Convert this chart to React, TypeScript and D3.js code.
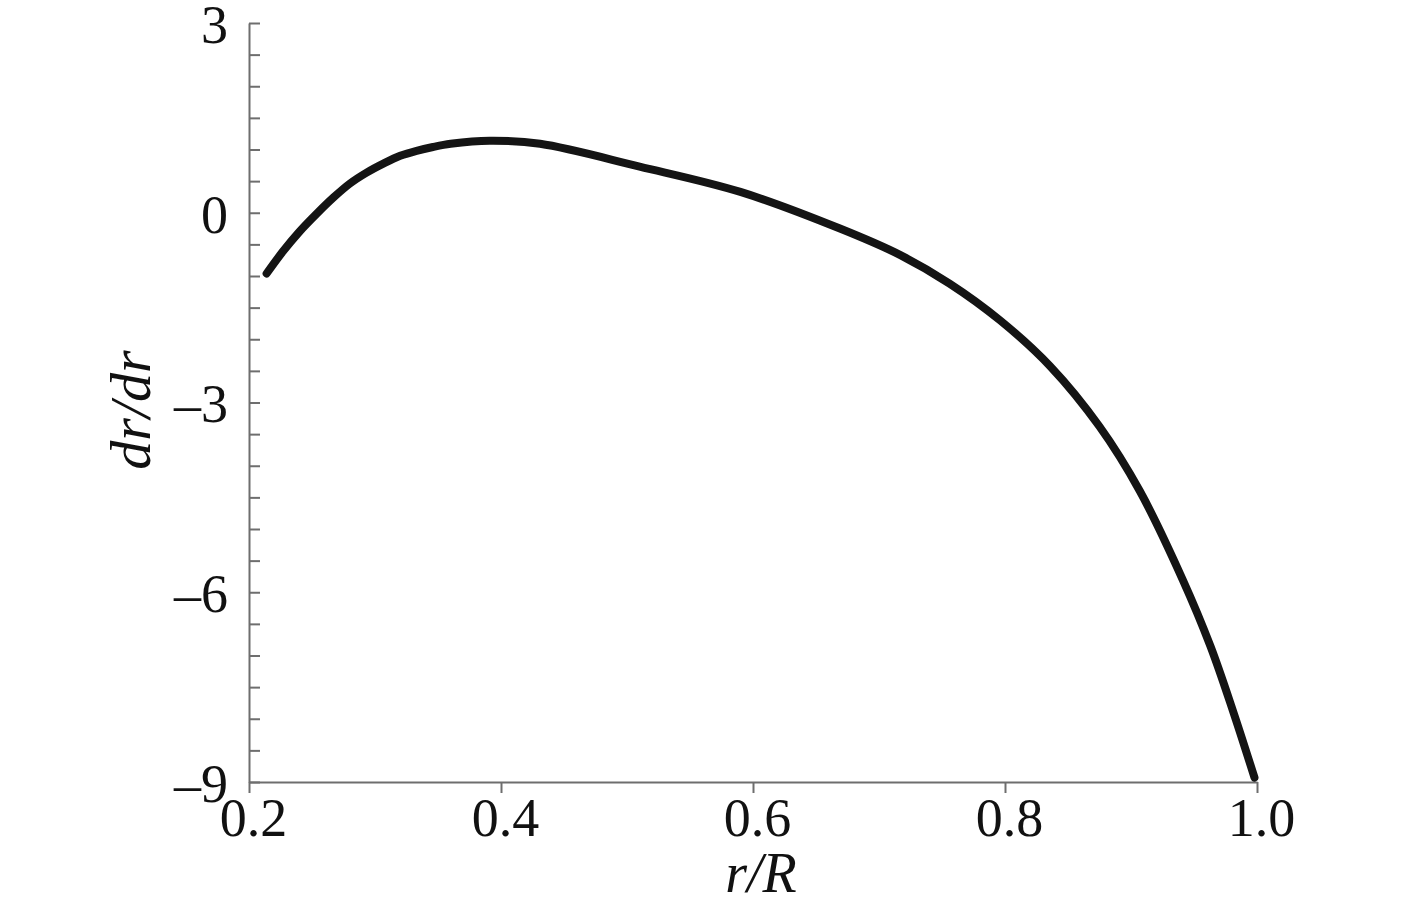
import { useEffect, useRef } from "react";
import * as d3 from "d3";

// values
const rValues = [0.214, 0.227, 0.24, 0.254, 0.267, 0.28, 0.293, 0.307, 0.32, 0.333, 0.346, 0.36, 0.391, 0.431, 0.51, 0.59, 0.669, 0.717, 0.756, 0.796, 0.836, 0.875, 0.907, 0.941, 0.963, 0.981, 0.998];
const slopeValues = [-0.96, -0.61, -0.3, -0.01, 0.24, 0.46, 0.63, 0.78, 0.9, 0.98, 1.04, 1.09, 1.14, 1.09, 0.73, 0.33, -0.25, -0.67, -1.12, -1.7, -2.43, -3.38, -4.4, -5.8, -6.85, -7.88, -8.93];

const xTicks = [0.2, 0.4, 0.6, 0.8, 1.0];
const yLabelTicks = [-9, -6, -3, 0, 3];
const yMinorTicks = d3.range(-9, 3.01, 0.5);

const xTitle = "r/R";
const yTitle = "dr/dr";

const W = 1417;
const H = 898;

export default function App() {
  const ref = useRef<SVGSVGElement | null>(null);

  useEffect(() => {
    const svg = d3.select(ref.current);
    svg.selectAll("*").remove();

    const left = 249, right = 1257, top = 23, bottom = 782;
    const axisColor = "#6e6e6e";
    const font = "'Liberation Serif', 'Times New Roman', serif";

    const x = d3.scaleLinear().domain([0.2, 1.0]).range([left, right]);
    const y = d3.scaleLinear().domain([-9, 3]).range([bottom, top]);

    const fmt = (v: number) => (v < 0 ? "–" + Math.abs(v) : String(v));

    // y axis: minor ticks every 0.5, labels every 3
    const yAxis = svg.append("g")
      .attr("transform", `translate(${left},0)`)
      .call(
        d3.axisLeft(y)
          .tickValues(yMinorTicks)
          .tickSize(-11)
          .tickSizeOuter(0)
          .tickPadding(21)
          .tickFormat((d: any) => (yLabelTicks.includes(+d) ? fmt(+d) : ""))
      );
    yAxis.select(".domain").attr("stroke", axisColor).attr("stroke-width", 2);
    yAxis.selectAll(".tick line").attr("stroke", axisColor).attr("stroke-width", 2);
    yAxis.selectAll(".tick text")
      .attr("fill", "#111")
      .style("font-family", font)
      .style("font-size", "54px")
      .attr("dy", "0.36em");

    // x axis
    const xAxis = svg.append("g")
      .attr("transform", `translate(0,${bottom})`)
      .call(
        d3.axisBottom(x)
          .tickValues(xTicks)
          .tickSize(11)
          .tickSizeOuter(0)
          .tickFormat((d: any) => d3.format(".1f")(+d))
      );
    xAxis.select(".domain").attr("stroke", axisColor).attr("stroke-width", 2);
    xAxis.selectAll(".tick line").attr("stroke", axisColor).attr("stroke-width", 2);
    xAxis.selectAll(".tick text")
      .attr("fill", "#111")
      .attr("y", 54)
      .attr("dy", 0)
      .attr("dx", 4)
      .style("font-family", font)
      .style("font-size", "54px");

    // curve
    const pts = rValues.map((r, i) => [r, slopeValues[i]] as [number, number]);
    const line = d3.line<[number, number]>()
      .x(d => x(d[0]))
      .y(d => y(d[1]))
      .curve(d3.curveCatmullRom.alpha(0.5));

    svg.append("path")
      .datum(pts)
      .attr("d", line)
      .attr("fill", "none")
      .attr("stroke", "#141414")
      .attr("stroke-width", 8)
      .attr("stroke-linecap", "round")
      .attr("stroke-linejoin", "round");

    // titles
    svg.append("text")
      .attr("x", 761)
      .attr("y", 892)
      .attr("text-anchor", "middle")
      .attr("fill", "#111")
      .style("font-family", font)
      .style("font-style", "italic")
      .style("font-size", "56px")
      .text(xTitle);

    svg.append("text")
      .attr("transform", "translate(150,410) rotate(-90)")
      .attr("text-anchor", "middle")
      .attr("fill", "#111")
      .style("font-family", font)
      .style("font-style", "italic")
      .style("font-size", "58px")
      .text(yTitle);
  }, []);

  return (
    <svg
      ref={ref}
      width={W}
      height={H}
      style={{ position: "absolute", left: 0, top: 0, background: "#fff" }}
    />
  );
}
